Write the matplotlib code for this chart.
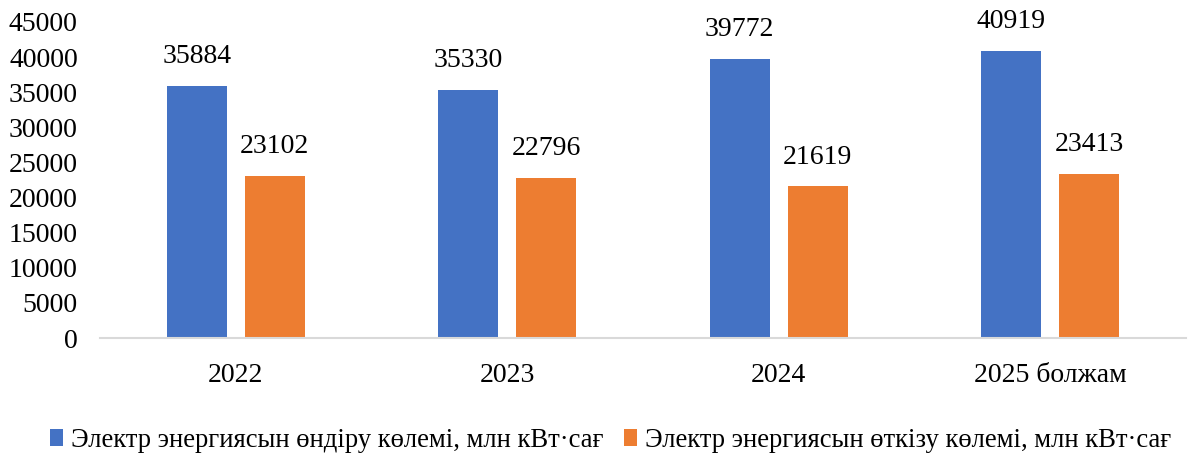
import matplotlib.pyplot as plt
import numpy as np

plt.rcParams['font.family'] = ['Liberation Serif', 'DejaVu Serif']

categories = ['2022', '2023', '2024', '2025 болжам']
production = [35884, 35330, 39772, 40919]
transmission = [23102, 22796, 21619, 23413]
series_names = ['Электр энергиясын өндіру көлемі, млн кВт·сағ',
                'Электр энергиясын өткізу көлемі, млн кВт·сағ']

fig = plt.figure(figsize=(11.92, 4.61), dpi=100)
ax = fig.add_axes([100/1192, 1-338/461, 1086/1192, 316/461])

x = np.arange(len(categories))
w = 0.22
b1 = ax.bar(x - 0.144, production, w, color='#4472C4', label=series_names[0])
b2 = ax.bar(x + 0.144, transmission, w, color='#ED7D31', label=series_names[1])
ax.bar_label(b1, padding=12, fontsize=20)
ax.bar_label(b2, padding=12, fontsize=20)

ax.set_xlim(-0.5, len(categories) - 0.5)
ax.set_ylim(0, 45000)
ax.set_yticks(range(0, 45001, 5000))
ax.set_xticks(x)
ax.set_xticklabels(categories)
ax.tick_params(axis='both', length=0, labelsize=20)
ax.tick_params(axis='y', pad=16)
ax.tick_params(axis='x', pad=18)
for s in ['top', 'right', 'left']:
    ax.spines[s].set_visible(False)
ax.spines['bottom'].set_color('#d9d9d9')
ax.spines['bottom'].set_linewidth(1.5)

fig.legend(handles=[b1, b2], loc='center left', bbox_to_anchor=(50/1192, 1-440/461),
           ncol=2, frameon=False, fontsize=19.2, handlelength=0.5, handleheight=0.6,
           handletextpad=0.3, columnspacing=0.75, borderaxespad=0, borderpad=0)

plt.savefig('out.png')
plt.close()
